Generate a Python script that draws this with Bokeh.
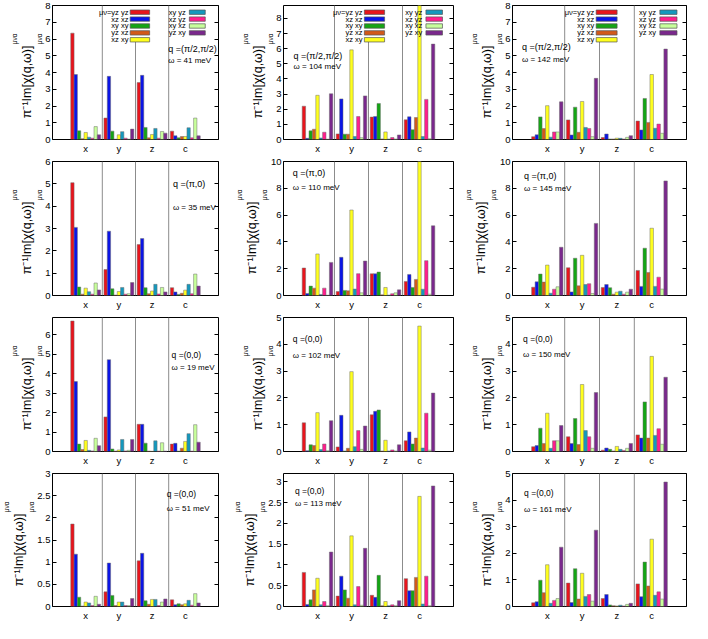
from bokeh.plotting import figure
from bokeh.layouts import gridplot
from bokeh.models import Range1d, FixedTicker, LinearAxis, Label, BoxAnnotation, CustomJSTickFormatter, Title
from bokeh.embed import file_html
from bokeh.resources import INLINE

# ---------------- data ----------------
groups = ["x", "y", "z", "c"]
series = ["yz yz", "xz xz", "xy xy", "yz xz", "xz xy", "xy yz", "xz yz", "xy xz", "yz xy"]
colors = ["#e8141c", "#0a14e6", "#14a514", "#d2591a", "#ffff1e",
          "#1498be", "#ff1e8c", "#c8ff9b", "#7a288c"]

# each panel: one list of 9 values (series order) per group x, y, z, c
# q = (pi/2, pi/2)
qm_w41 = [[6.35, 3.88, 0.52, 0.05, 0.42, 0.14, 0.08, 0.77, 0.28],
          [1.28, 3.77, 0.50, 0.02, 0.28, 0.47, 0.08, 0.02, 0.62],
          [3.40, 3.83, 0.72, 0.10, 0.30, 0.66, 0.08, 0.48, 0.38],
          [0.50, 0.22, 0.10, 0.18, 0.18, 0.70, 0.10, 1.28, 0.22]]
qm_w104 = [[2.20, 0.08, 0.57, 0.68, 2.92, 0.10, 0.48, 0.02, 3.02],
           [0.37, 2.68, 0.35, 0.35, 5.92, 0.20, 1.52, 0.12, 2.88],
           [1.48, 1.52, 2.38, 0.04, 0.50, 0.03, 0.13, 0.03, 0.30],
           [1.30, 1.50, 0.65, 1.45, 9.00, 0.20, 2.65, 0.05, 6.30]]
qm_w142 = [[0.17, 0.28, 1.35, 0.65, 2.02, 0.14, 0.45, 0.45, 2.25],
           [1.17, 0.27, 1.93, 0.43, 2.27, 0.72, 0.66, 0.17, 3.65],
           [0.12, 0.33, 0.03, 0.03, 0.08, 0.07, 0.03, 0.13, 0.23],
           [1.10, 0.57, 2.45, 1.02, 3.88, 0.67, 0.92, 0.37, 5.40]]
# q = (pi, 0)
qx_w35 = [[5.05, 3.05, 0.38, 0.06, 0.33, 0.17, 0.06, 0.56, 0.25],
          [1.16, 2.88, 0.30, 0.02, 0.18, 0.36, 0.06, 0.08, 0.58],
          [2.28, 2.55, 0.35, 0.08, 0.20, 0.50, 0.07, 0.36, 0.16],
          [0.35, 0.16, 0.05, 0.10, 0.24, 0.50, 0.08, 0.96, 0.42]]
qx_w110 = [[2.05, 0.15, 0.70, 0.55, 3.10, 0.08, 0.55, 0.02, 2.47],
           [0.30, 2.85, 0.38, 0.35, 6.38, 0.48, 1.63, 0.20, 2.57],
           [1.62, 1.62, 1.75, 0.05, 0.60, 0.03, 0.13, 0.20, 0.42],
           [1.05, 1.57, 0.60, 1.20, 10.0, 0.47, 2.60, 0.10, 5.20]]
qx_w145 = [[0.62, 1.02, 1.60, 1.00, 2.27, 0.17, 0.47, 0.65, 3.60],
           [2.07, 0.27, 2.78, 0.72, 3.00, 0.82, 0.88, 0.15, 5.38],
           [0.60, 0.82, 0.58, 0.10, 0.25, 0.32, 0.10, 0.25, 0.47],
           [1.87, 0.68, 3.53, 1.72, 5.02, 0.68, 1.37, 0.48, 8.55]]
# q = (0, 0)
q0_w19 = [[6.72, 3.60, 0.38, 0.10, 0.57, 0.06, 0.03, 0.68, 0.30],
          [1.78, 4.73, 0.13, 0.02, 0.08, 0.62, 0.03, 0.06, 0.62],
          [1.40, 1.40, 0.43, 0.02, 0.01, 0.55, 0.02, 0.45, 0.02],
          [0.38, 0.42, 0.02, 0.17, 0.52, 0.92, 0.02, 1.38, 0.48]]
q0_w102 = [[1.07, 0.03, 0.25, 0.22, 1.45, 0.07, 0.28, 0.03, 1.15],
           [0.17, 1.35, 0.02, 0.12, 2.98, 0.18, 0.78, 0.08, 0.95],
           [1.37, 1.50, 1.55, 0.02, 0.42, 0.02, 0.06, 0.02, 0.25],
           [0.40, 0.73, 0.28, 0.50, 4.68, 0.13, 1.43, 0.05, 2.18]]
q0_w150 = [[0.18, 0.22, 0.87, 0.30, 1.43, 0.12, 0.40, 0.40, 0.97],
           [0.55, 0.30, 1.23, 0.26, 2.50, 0.78, 0.55, 0.12, 2.20],
           [0.05, 0.13, 0.08, 0.02, 0.19, 0.08, 0.04, 0.12, 0.30],
           [0.62, 0.50, 1.85, 0.50, 3.55, 0.60, 0.85, 0.27, 2.77]]
q0_w51 = [[1.86, 1.18, 0.21, 0.01, 0.10, 0.08, 0.02, 0.23, 0.05],
          [0.33, 0.98, 0.25, 0.02, 0.10, 0.10, 0.02, 0.02, 0.18],
          [1.03, 1.20, 0.13, 0.05, 0.16, 0.16, 0.02, 0.10, 0.17],
          [0.15, 0.04, 0.06, 0.04, 0.06, 0.14, 0.03, 0.29, 0.08]]
q0_w113 = [[0.82, 0.05, 0.16, 0.40, 0.68, 0.04, 0.12, 0.02, 1.31],
           [0.25, 0.73, 0.40, 0.20, 1.70, 0.04, 0.48, 0.03, 1.40],
           [0.27, 0.22, 0.75, 0.02, 0.12, 0.02, 0.04, 0.02, 0.14],
           [0.67, 0.38, 0.38, 0.70, 2.65, 0.06, 0.73, 0.02, 2.90]]
q0_w161 = [[0.14, 0.18, 0.99, 0.52, 1.57, 0.12, 0.23, 0.30, 2.23],
           [0.88, 0.15, 1.42, 0.28, 1.25, 0.38, 0.45, 0.20, 2.87],
           [0.30, 0.45, 0.06, 0.03, 0.02, 0.05, 0.02, 0.08, 0.12],
           [0.85, 0.37, 1.67, 0.77, 2.53, 0.42, 0.55, 0.28, 4.68]]

panels = [[qm_w41, qm_w104, qm_w142],
          [qx_w35, qx_w110, qx_w145],
          [q0_w19, q0_w102, q0_w150],
          [q0_w51, q0_w113, q0_w161]]
q_labels = ["q =(π/2,π/2)", "q =(π,0)", "q =(0,0)", "q =(0,0)"]
omegas = [[41, 104, 142], [35, 110, 145], [19, 102, 150], [51, 113, 161]]
ymaxs = [[8, 8.85, 8], [6, 10, 10], [6.9, 5, 5], [3, 3.2, 5]]
yticks = [[[0, 1, 2, 3, 4, 5, 6, 7, 8]] * 3,
          [[0, 1, 2, 3, 4, 5, 6], [0, 2, 4, 6, 8, 10], [0, 2, 4, 6, 8, 10]],
          [[0, 1, 2, 3, 4, 5, 6], [0, 1, 2, 3, 4, 5], [0, 1, 2, 3, 4, 5]],
          [[0, 0.5, 1, 1.5, 2, 2.5, 3], [0, 0.5, 1, 1.5, 2, 2.5, 3], [0, 1, 2, 3, 4, 5]]]
y_title = "π⁻¹Im[χ(q,ω)]"
y_scripts = "μνα"

# ---------------- layout ----------------
FONT = "Liberation Sans"
W = [231, 231, 230]
H = [156, 156, 156, 155]
TOP = 5
FH = 134
LB = [[36, 40, 46], [37, 41, 45], [39, 41, 46], [43, 44, 47]]
RB = [[8, 7, 3], [13, 9, 6], [9, 8, 5], [13, 9, 5]]
REFW = [[188, 185, 183], [182, 182, 181], [184, 183, 181], [176, 179, 180]]
REFH = 140.0
# (dx, dy_q, dy_omega) of the q / omega texts in reference px from frame top-left
QPOS = [[(131, 45, 57), (11, 53, 64), (10, 43, 56)],
        [(132, 24, 48), (10, 12, 27), (12, 15, 28)],
        [(132, 39, 52), (10, 22, 40), (11, 22, 39)],
        [(121, 22, 37), (12, 18, 32), (12, 20, 38)]]
QFS = ["9px", "9px", "8.5px", "8.5px"]

NB = len(series)
GAP = 1
STEP = NB + GAP
XS, XE = -6, 44


def make_panel(r, c):
    vals = panels[r][c]
    ymax = ymaxs[r][c]
    p = figure(width=W[c], height=H[r], x_range=Range1d(XS, XE), y_range=Range1d(0, ymax),
               output_backend="svg", toolbar_location=None,
               min_border_left=LB[r][c], min_border_right=RB[r][c],
               min_border_top=TOP, min_border_bottom=H[r] - TOP - FH)
    p.xgrid.visible = False
    p.ygrid.visible = False
    p.outline_line_color = "black"
    p.outline_line_width = 1
    p.background_fill_color = "white"
    p.border_fill_color = "white"

    def fx(frac):
        return XS + (XE - XS) * frac

    def fy(frac):
        return ymax * (1 - frac)

    # group separators (in the gap between clusters)
    sep_x = [k * STEP + NB - 0.5 + GAP / 2 for k in range(len(groups) - 1)]
    sep_top = [ymax] * len(sep_x)
    if r == 0:
        sep_top[1] = fy(38 / REFH)
    p.segment(x0=sep_x, y0=[0] * len(sep_x), x1=sep_x, y1=sep_top,
              line_color="#8c8c8c", line_width=1)

    # bars
    for j in range(NB):
        xs = [k * STEP + j for k in range(len(groups))]
        tops = [vals[k][j] for k in range(len(groups))]
        p.vbar(x=xs, top=tops, bottom=0, width=1, fill_color=colors[j],
               line_color="#6e6e6e", line_width=0.5)

    # y axis
    yt = yticks[r][c]
    p.yaxis.ticker = FixedTicker(ticks=yt)
    p.yaxis.major_label_overrides = {t: f"{t:g}" for t in yt}
    p.yaxis.major_tick_in = 4
    p.yaxis.major_tick_out = 0
    p.yaxis.minor_tick_line_color = None
    p.yaxis.axis_line_color = None
    p.yaxis.major_tick_line_color = "black"
    p.yaxis.major_label_text_font = FONT
    p.yaxis.major_label_text_font_size = "9.5px"
    p.yaxis.major_label_text_color = "black"
    p.yaxis.major_label_standoff = 2
    right = LinearAxis(ticker=FixedTicker(ticks=yt),
                       formatter=CustomJSTickFormatter(code="return ''"),
                       major_tick_in=4, major_tick_out=0, minor_tick_line_color=None,
                       axis_line_color=None, major_label_standoff=0,
                       major_label_text_font_size="1px")
    p.add_layout(right, "right")

    # y axis title: main text with sub- and superscript pieces as side titles
    end_off = int(round(0.30 * FH))
    p.add_layout(Title(text=y_scripts, align="right", offset=end_off - 12, standoff=0,
                       text_font=FONT, text_font_size="6.5px", text_font_style="normal",
                       text_color="black"), "left")
    p.add_layout(Title(text=y_title, align="right", offset=end_off, standoff=0,
                       text_font=FONT, text_font_size="12.5px", text_font_style="normal",
                       text_color="black"), "left")
    p.add_layout(Title(text=y_scripts, align="right", offset=end_off - 12, standoff=0,
                       text_font=FONT, text_font_size="6.5px", text_font_style="normal",
                       text_color="black"), "left")

    # x axis
    centers = [k * STEP + (NB - 1) / 2 for k in range(len(groups))]
    p.xaxis.ticker = FixedTicker(ticks=centers)
    p.xaxis.major_label_overrides = {cx: g for cx, g in zip(centers, groups)}
    p.xaxis.major_tick_in = 0
    p.xaxis.major_tick_out = 0
    p.xaxis.minor_tick_line_color = None
    p.xaxis.axis_line_color = None
    p.xaxis.major_label_text_font = FONT
    p.xaxis.major_label_text_font_size = "9.5px"
    p.xaxis.major_label_text_color = "black"
    p.xaxis.major_label_standoff = 3

    # q / omega texts
    dx, dyq, dyw = QPOS[r][c]
    rw = REFW[r][c]
    p.add_layout(Label(x=fx(dx / rw), y=fy(dyq / REFH), text=q_labels[r],
                       text_align="left", text_baseline="middle", text_font=FONT,
                       text_font_size=QFS[r], text_color="black"))
    p.add_layout(Label(x=fx(dx / rw), y=fy(dyw / REFH), text=f"ω = {omegas[r][c]} meV",
                       text_align="left", text_baseline="middle", text_font=FONT,
                       text_font_size="8px", text_color="black"))

    # legend (top row only): text then coloured sample, in two columns
    if r == 0:
        cols = [(list(range(0, 5)), 86, 88, 110), (list(range(5, 9)), 151, 155, 173)]
        for idxs, tx, b0, b1 in cols:
            for i, j in enumerate(idxs):
                yc = (7 + 7.2 * i) / REFH
                lab = ("μν=" + series[j]) if j == 0 else series[j]
                p.add_layout(Label(x=fx(tx / rw), y=fy(yc), text=lab, text_align="right",
                                   text_baseline="middle", text_font=FONT,
                                   text_font_size="7.5px", text_color="black"))
                p.add_layout(BoxAnnotation(left=fx(b0 / rw), right=fx(b1 / rw),
                                           bottom=fy(yc + 2.3 / REFH), top=fy(yc - 2.3 / REFH),
                                           fill_color=colors[j], fill_alpha=1.0,
                                           line_color="#555555", line_alpha=1.0, line_width=0.7))
    return p


rows = [[make_panel(r, c) for c in range(3)] for r in range(4)]
grid = gridplot(rows, toolbar_location=None)

open("out.html", "w").write(file_html(grid, INLINE))
